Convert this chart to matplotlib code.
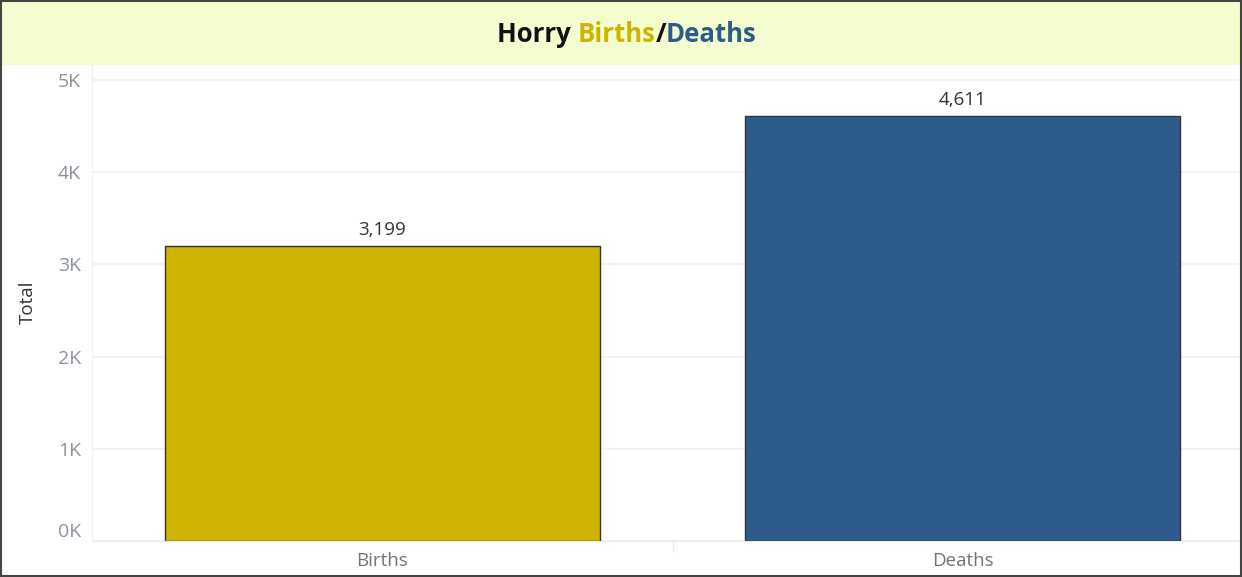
import matplotlib.pyplot as plt
from matplotlib.patches import Rectangle

plt.rcParams["font.family"] = ["Open Sans", "DejaVu Sans"]

# Horry county totals
categories = ["Births", "Deaths"]
totals = [3199, 4611]
bar_colors = ["#CCB400", "#2D5C8A"]
ytick_vals = [0, 1000, 2000, 3000, 4000, 5000]
ytick_labels = ["0K", "1K", "2K", "3K", "4K", "5K"]

W, H = 1242, 577
fig = plt.figure(figsize=(W / 100, H / 100), dpi=100)
fig.patch.set_facecolor("white")

# title band
fig.patches.append(Rectangle((0, 1 - 65 / H), 1, 65 / H, transform=fig.transFigure,
                             facecolor="#F4FDD0", edgecolor="none", zorder=0))
# outer frame
fig.patches.append(Rectangle((0.001, 0.002), 0.998, 0.996, transform=fig.transFigure,
                             facecolor="none", edgecolor="#444444", lw=1.5, zorder=5))

ax = fig.add_axes([92 / W, (H - 541) / H, (W - 92) / W, (541 - 65) / H])
x = list(range(len(categories)))
ax.bar(x, totals, width=0.75, color=bar_colors, edgecolor="#333333", linewidth=1.0, zorder=3)
for xi, v in zip(x, totals):
    ax.annotate(f"{v:,}", (xi, v), xytext=(0, 5), textcoords="offset points",
                ha="center", va="bottom", fontsize=13.5, color="#333333")

ax.set_xlim(-0.5, 1.481)
ax.set_ylim(0, 5163)
ax.set_yticks(ytick_vals)
ax.set_yticklabels(ytick_labels)
ax.set_xticks(x)
ax.set_xticklabels(categories)
ax.tick_params(axis="y", length=0, pad=8, labelsize=14, labelcolor="#8C929C")
ax.tick_params(axis="x", length=0, pad=8, labelsize=13.5, labelcolor="#6F747C")
# bottom label sits above the baseline
ax.get_yticklabels()[0].set_va("bottom")
ax.grid(axis="y", color="#F0F0F0", linewidth=1.2, zorder=0)
for s in ["top", "right"]:
    ax.spines[s].set_visible(False)
ax.spines["left"].set_color("#F0F0F0")
ax.spines["bottom"].set_color("#EBEBEB")
ax.axvline(0.5, ymin=-0.02, ymax=0, color="#EBEBEB", lw=1, clip_on=False)
fig.text(28 / W, 1 - 302 / H, "Total", rotation=90, ha="center", va="center",
         fontsize=13.5, color="#333333")

# multi-coloured title
pieces = [("Horry ", "#111111"), ("Births", "#CCB400"), ("/", "#111111"), ("Deaths", "#2D5C8A")]
fig.canvas.draw()
renderer = fig.canvas.get_renderer()
texts = []
for s, c in pieces:
    t = fig.text(0, 1 - 34 / H, s, fontsize=18.5, fontweight="bold", color=c,
                 ha="left", va="center", family=["Open Sans", "DejaVu Sans"])
    texts.append(t)
widths = [t.get_window_extent(renderer).width for t in texts]
total_w = sum(widths)
xpos = (W / 2 + 6 - total_w / 2)
for t, w in zip(texts, widths):
    t.set_x(xpos / W)
    xpos += w

fig.savefig("out.png", dpi=100)
